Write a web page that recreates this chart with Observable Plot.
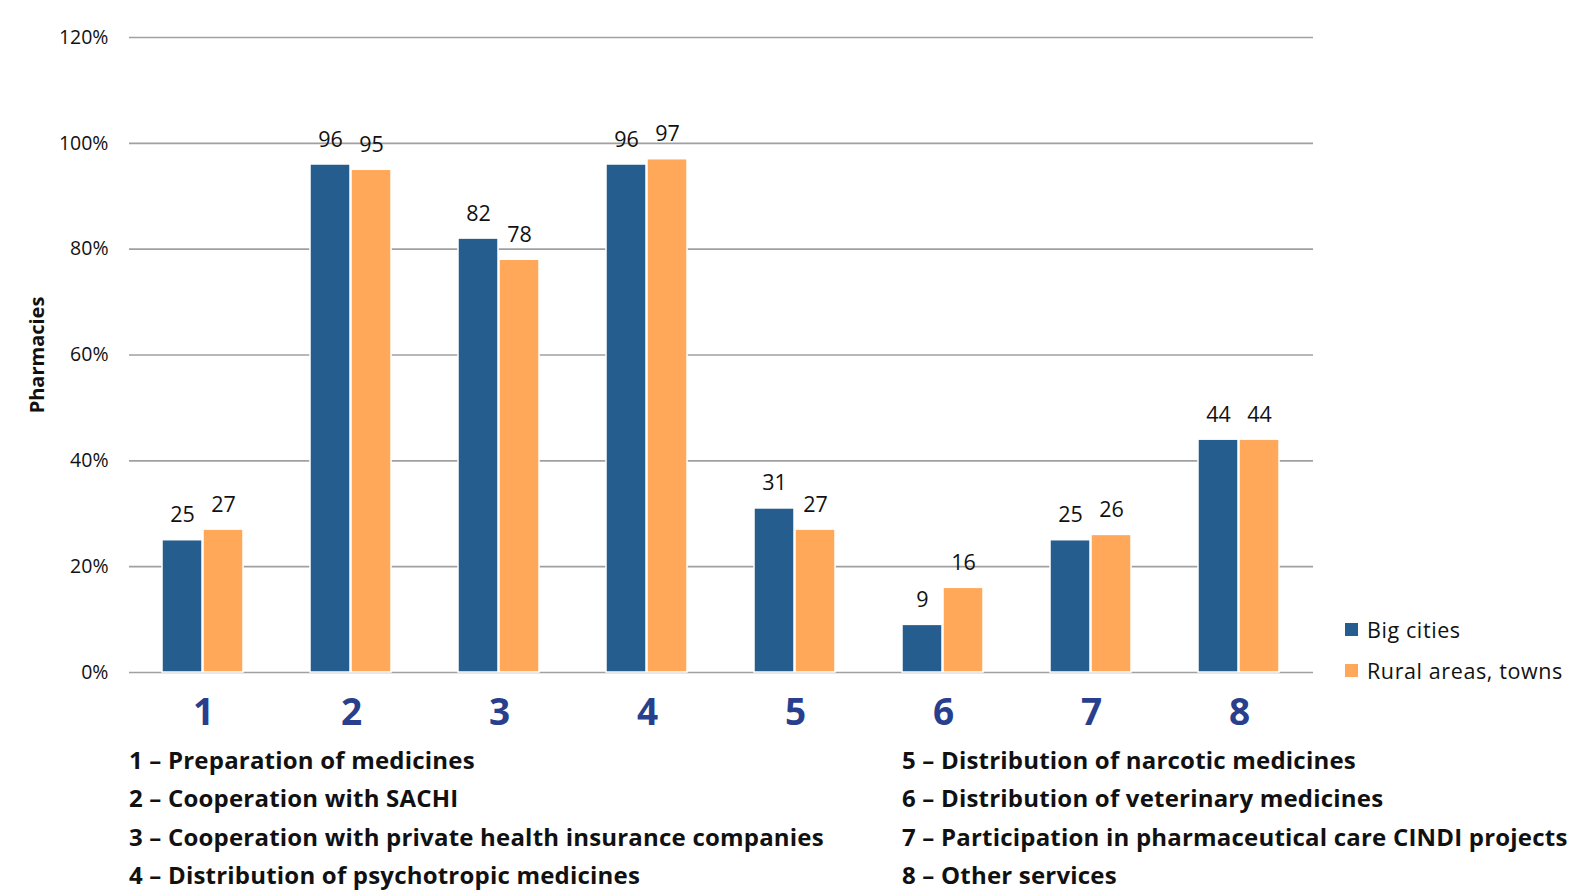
<!DOCTYPE html>
<html>
<head>
<meta charset="utf-8">
<script src="https://cdn.jsdelivr.net/npm/d3@7"></script>
<script src="https://cdn.jsdelivr.net/npm/@observablehq/plot@0.6"></script>
<style>
  html, body { margin: 0; padding: 0; background: #fff; }
  body { width: 1578px; height: 896px; position: relative; overflow: hidden; font-family: "Open Sans", Lato, sans-serif; }
  #chart { position: absolute; left: 0; top: 0; }
  #chart g[aria-label="y-axis label"] text { font-weight: bold; font-size: 20px; }
  #legend { position: absolute; left: 1345px; top: 609px; }
  #legend .sw { display: flex; align-items: center; height: 41px; font-size: 21.5px; letter-spacing: 0.6px; color: #111; }
  #legend .sw span.box { display: inline-block; width: 13px; height: 13px; margin-right: 9px; margin-top: 0px; }
  #desc { position: absolute; left: 0; top: 741px; width: 1578px; }
  #desc .col { position: absolute; top: 0; font-weight: bold; font-size: 24px; color: #111; line-height: 38.3px; white-space: nowrap; letter-spacing: 0.2px; }
</style>
</head>
<body>
<div id="chart"></div>
<div id="legend"></div>
<div id="desc"></div>
<script>
const categories = ["1", "2", "3", "4", "5", "6", "7", "8"];
const seriesNames = ["Big cities", "Rural areas, towns"];
const bigCities = [25, 96, 82, 96, 31, 9, 25, 44];
const ruralAreas = [27, 95, 78, 97, 27, 16, 26, 44];
const seriesColors = ["#255D8F", "#FFA85A"];
const yTicks = [0, 20, 40, 60, 80, 100, 120];
const descriptions = [
  "1 \u2013 Preparation of medicines",
  "2 \u2013 Cooperation with SACHI",
  "3 \u2013 Cooperation with private health insurance companies",
  "4 \u2013 Distribution of psychotropic medicines",
  "5 \u2013 Distribution of narcotic medicines",
  "6 \u2013 Distribution of veterinary medicines",
  "7 \u2013 Participation in pharmaceutical care CINDI projects",
  "8 \u2013 Other services"
];

const data = [];
categories.forEach((c, i) => {
  data.push({cat: c, series: seriesNames[0], value: bigCities[i]});
  data.push({cat: c, series: seriesNames[1], value: ruralAreas[i]});
});

const plot = Plot.plot({
  width: 1578,
  height: 738,
  marginTop: 37,
  marginBottom: 66,
  marginLeft: 128,
  marginRight: 265,
  style: {fontFamily: "'Open Sans', Lato, sans-serif", background: "#fff"},
  fx: {domain: categories, padding: 0, label: null, axis: null},
  x: {domain: seriesNames, paddingInner: 0.02, paddingOuter: 0.78, axis: null},
  y: {domain: [0, 120], ticks: yTicks, label: "Pharmacies"},
  color: {domain: seriesNames, range: seriesColors},
  marks: [
    Plot.gridY(yTicks, {stroke: "#a0a0a0", strokeOpacity: 1, strokeWidth: 1.6, facet: false}),
    Plot.ruleX([0], {frameAnchor: "left", stroke: "#a0a0a0", strokeWidth: 1.6, facet: false}),
    Plot.axisY(yTicks, {
      tickSize: 0, tickPadding: 21, fontSize: 19.5, fill: "#111",
      tickFormat: d => d + "%",
      label: "Pharmacies", labelAnchor: "center", labelArrow: "none", labelOffset: 100
    }),
    Plot.axisFx({
      anchor: "bottom", tickSize: 0, tickPadding: 26, fontSize: 37, fontWeight: "bold", color: "#283F8E", label: null
    }),
    Plot.barY(data, {
      fx: "cat", x: "series", y: "value", fill: "series",
      stroke: "#fff", strokeWidth: 1.5
    }),
    Plot.text(data, {
      fx: "cat", x: "series", y: "value", text: d => String(d.value),
      lineAnchor: "bottom", dy: -18, fontSize: 21.5, fill: "#111"
    })
  ]
});
document.getElementById("chart").appendChild(plot);

// legend built from the plot's own color scale
const colorScale = plot.scale("color");
const legend = document.getElementById("legend");
colorScale.domain.forEach((name, i) => {
  const row = document.createElement("div");
  row.className = "sw";
  const box = document.createElement("span");
  box.className = "box";
  box.style.background = colorScale.range[i];
  row.appendChild(box);
  row.appendChild(document.createTextNode(name));
  legend.appendChild(row);
});

// category descriptions below the chart
const desc = document.getElementById("desc");
const left = document.createElement("div");
left.className = "col"; left.style.left = "129px";
const right = document.createElement("div");
right.className = "col"; right.style.left = "902px";
descriptions.forEach((t, i) => {
  const line = document.createElement("div");
  line.textContent = t;
  (i < 4 ? left : right).appendChild(line);
});
desc.appendChild(left);
desc.appendChild(right);
</script>
</body>
</html>
